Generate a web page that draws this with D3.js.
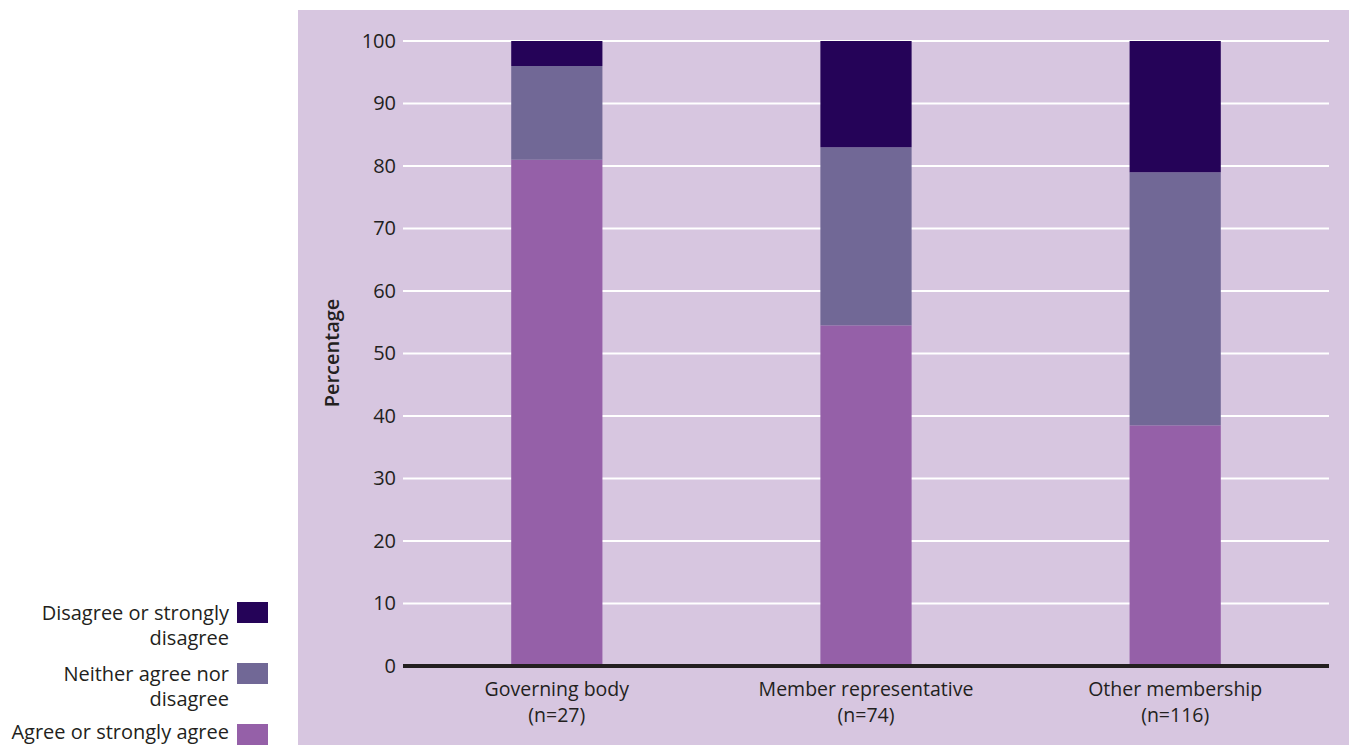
<!DOCTYPE html>
<html><head><meta charset="utf-8">
<script src="https://cdn.jsdelivr.net/npm/d3@7"></script>
<style>body{margin:0;background:#fff}svg{display:block}text{font-family:"Open Sans","Noto Sans",sans-serif;fill:#231f20}</style>
</head><body><svg id="c" width="1349" height="745"></svg>
<script>
const categories = ["Governing body", "Member representative", "Other membership"];
const sampleSizes = ["(n=27)", "(n=74)", "(n=116)"];
const agree = [81, 54.5, 38.5];
const neither = [15, 28.5, 40.5];
const disagree = [4, 17, 21];
const seriesNames = ["Agree or strongly agree", "Neither agree nor disagree", "Disagree or strongly disagree"];
const legendLines = [["Agree or strongly agree"], ["Neither agree nor", "disagree"], ["Disagree or strongly", "disagree"]];
const colors = ["#9560a8", "#716896", "#250358"];
const yTicks = [0,10,20,30,40,50,60,70,80,90,100];

const svg = d3.select("#c");
svg.append("rect").attr("x",298).attr("y",10).attr("width",1051).attr("height",735).attr("fill","#d7c6e0");

const x = d3.scaleBand().domain(categories).range([403,1329]).paddingInner(0.705).paddingOuter(0.35);
const y = d3.scaleLinear().domain([0,100]).range([666,41]);

// grid
svg.append("g").selectAll("line").data(yTicks.filter(d=>d>0)).join("line")
  .attr("x1",403).attr("x2",1329).attr("y1",d=>y(d)).attr("y2",d=>y(d))
  .attr("stroke","#fff").attr("stroke-width",2);

const yAxis = svg.append("g").attr("transform","translate(403,0)")
  .call(d3.axisLeft(y).tickValues(yTicks).tickSize(0).tickPadding(7));
yAxis.select(".domain").remove();
yAxis.selectAll("text").style("font-size","20px").attr("fill","#231f20").style("font-family","'Open Sans',sans-serif");

const rows = categories.map((c,i)=>({cat:c, vals:[agree[i],neither[i],disagree[i]]}));
const stack = d3.stack().keys([0,1,2]).value((d,k)=>d.vals[k]);
const stacked = stack(rows);
svg.append("g").selectAll("g").data(stacked).join("g").attr("fill",(d,i)=>colors[i])
  .selectAll("rect").data(d=>d).join("rect")
  .attr("x",d=>x(d.data.cat)).attr("width",x.bandwidth())
  .attr("y",d=>y(d[1])).attr("height",d=>y(d[0])-y(d[1]));

// baseline
svg.append("line").attr("x1",403).attr("x2",1329).attr("y1",y(0)).attr("y2",y(0))
  .attr("stroke","#231f20").attr("stroke-width",4);

// x labels
const xl = svg.append("g").selectAll("text").data(categories).join("text")
  .attr("text-anchor","middle").style("font-size","19.5px");
xl.append("tspan").attr("x",d=>x(d)+x.bandwidth()/2).attr("y",696).text(d=>d);
xl.append("tspan").attr("x",d=>x(d)+x.bandwidth()/2).attr("y",722).text((d,i)=>sampleSizes[i]);

// y title
svg.append("text").attr("transform","translate(339,353) rotate(-90)").attr("text-anchor","middle")
  .style("font-size","20px").style("font-weight","600").text("Percentage");

// legend
const legTop = [724, 663, 602];
const lg = svg.append("g");
seriesNames.forEach((s,i)=>{
  lg.append("rect").attr("x",237).attr("y",legTop[i]).attr("width",31).attr("height",21).attr("fill",colors[i]);
  legendLines[i].forEach((ln,j)=>{
    const base = i===0 ? 739 : legTop[i]+18+j*25;
    lg.append("text").attr("x",229).attr("y",base).attr("text-anchor","end")
      .style("font-size","20px").text(ln);
  });
});
</script></body></html>
